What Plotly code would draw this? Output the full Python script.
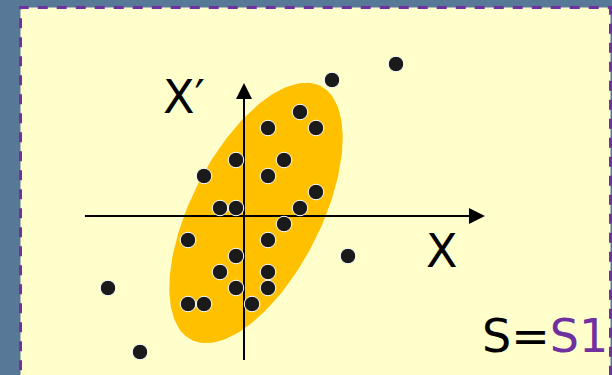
import numpy as np
import plotly.graph_objects as go

# Data points (axis units, origin at the axes crossing)
pts_x = [9.5, 5.5, 3.5, 1.5, 4.5, -0.5, 2.5, -2.5, 1.5, 4.5, -1.5, -0.5, 3.5, 2.5,
         -3.5, 1.5, -0.5, 6.5, -1.5, 1.5, -0.5, 1.5, -8.5, -3.5, -2.5, 0.5, -6.5]
pts_y = [9.5, 8.5, 6.5, 5.5, 5.5, 3.5, 3.5, 2.5, 2.5, 1.5, 0.5, 0.5, 0.5, -0.5,
         -1.5, -1.5, -2.5, -2.5, -3.5, -3.5, -4.5, -4.5, -4.5, -5.5, -5.5, -5.5, -8.5]

# Ellipse parameters
ell_cx, ell_cy = 0.75, 0.19
ell_a, ell_b = 8.9, 4.05
ell_tilt_deg = 27.0  # from vertical, clockwise

# Axis extents
xaxis_from, xaxis_tip = -9.94, 15.06
yaxis_from, yaxis_tip = -9.0, 8.31
head_len, head_half = 1.0, 0.5

labels = {"x": "X", "xp": "X\u2032"}

fig = go.Figure()

# Ellipse
t = np.linspace(0, 2 * np.pi, 200)
th = np.radians(ell_tilt_deg)
u = (np.sin(th), np.cos(th))
v = (np.cos(th), -np.sin(th))
ex = ell_cx + ell_a * np.cos(t) * u[0] + ell_b * np.sin(t) * v[0]
ey = ell_cy + ell_a * np.cos(t) * u[1] + ell_b * np.sin(t) * v[1]
fig.add_trace(go.Scatter(x=ex, y=ey, mode="lines", fill="toself",
                         fillcolor="#FFC000", line=dict(width=0, color="#FFC000"),
                         hoverinfo="skip"))

# Axes lines
fig.add_trace(go.Scatter(x=[xaxis_from, xaxis_tip - head_len], y=[0, 0], mode="lines",
                         line=dict(color="black", width=2), hoverinfo="skip"))
fig.add_trace(go.Scatter(x=[0, 0], y=[yaxis_from, yaxis_tip - head_len], mode="lines",
                         line=dict(color="black", width=2), hoverinfo="skip"))
# Arrowheads
fig.add_trace(go.Scatter(
    x=[xaxis_tip, xaxis_tip - head_len, xaxis_tip - head_len, xaxis_tip],
    y=[0, head_half, -head_half, 0], mode="lines", fill="toself",
    fillcolor="black", line=dict(color="black", width=0), hoverinfo="skip"))
fig.add_trace(go.Scatter(
    x=[0, head_half, -head_half, 0],
    y=[yaxis_tip, yaxis_tip - head_len, yaxis_tip - head_len, yaxis_tip], mode="lines",
    fill="toself", fillcolor="black", line=dict(color="black", width=0), hoverinfo="skip"))

# Points
fig.add_trace(go.Scatter(x=pts_x, y=pts_y, mode="markers",
                         marker=dict(size=15.5, color="#1a1a1a",
                                     line=dict(color="white", width=1)),
                         hoverinfo="skip"))

font = dict(family="DejaVu Sans, Verdana, sans-serif", size=46, color="black")
fig.add_annotation(x=-3.75, y=7.45, xref="x", yref="y", text=labels["xp"],
                   showarrow=False, font=font, xanchor="center", yanchor="middle")
fig.add_annotation(x=12.4, y=-2.19, xref="x", yref="y", text=labels["x"],
                   showarrow=False, font=font, xanchor="center", yanchor="middle")
fig.add_annotation(x=14.75, y=-7.5, xref="x", yref="y",
                   text="S=<span style='color:#7030A0'>S1</span>",
                   showarrow=False, font=font, xanchor="left", yanchor="middle")

W, H = 612, 375
fig.add_shape(type="rect", xref="paper", yref="paper",
              x0=20.5 / W, x1=610.5 / W, y0=-0.05, y1=1 - 7.5 / H,
              fillcolor="#FFFFCC", line=dict(color="#7030A0", width=3, dash="10px,9px"),
              layer="below")

fig.update_layout(
    width=W, height=H, autosize=False,
    margin=dict(l=0, r=0, t=0, b=0),
    paper_bgcolor="#587898", plot_bgcolor="rgba(0,0,0,0)",
    showlegend=False,
    xaxis=dict(visible=False, range=[-244 / 16, 368 / 16], fixedrange=True),
    yaxis=dict(visible=False, range=[(216 - 375) / 16, 216 / 16], fixedrange=True),
)

fig.write_html("out.html", config={"displayModeBar": False},
               post_script="document.body.style.margin='0px';document.body.style.overflow='hidden';")
